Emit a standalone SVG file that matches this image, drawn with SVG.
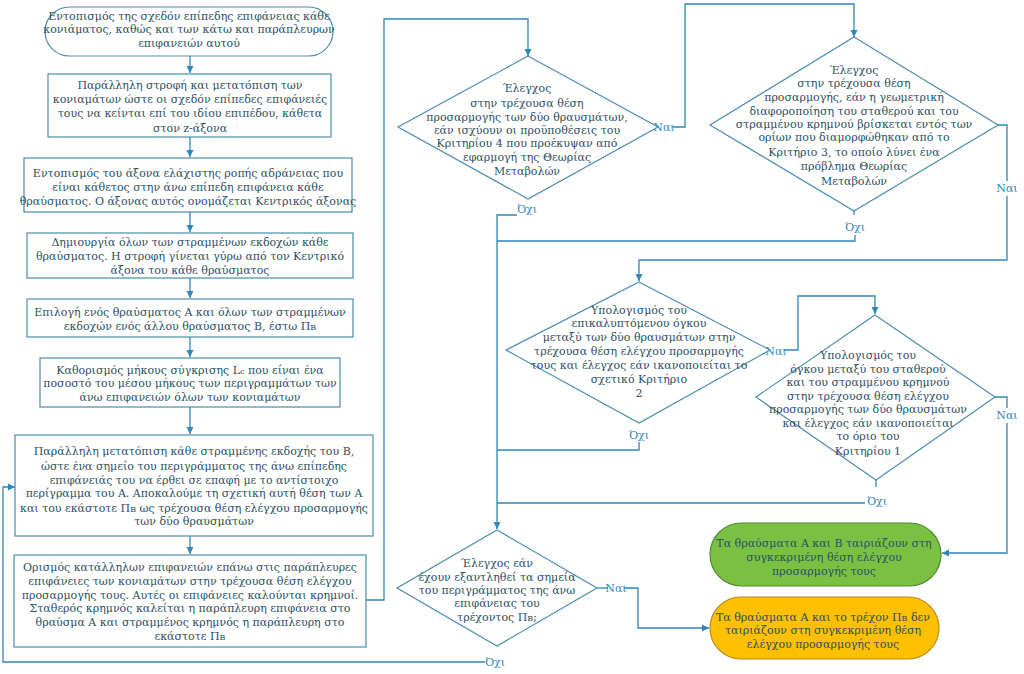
<svg xmlns="http://www.w3.org/2000/svg" width="1024" height="674" viewBox="0 0 1024 674">
<defs>
<marker id="ah" markerWidth="8" markerHeight="8" refX="7" refY="4" orient="auto" markerUnits="userSpaceOnUse">
<path d="M0,0.5 L7,4 L0,7.5 Z" fill="#2f86b8"/>
</marker>
<style>
.n{fill:#ffffff;stroke:#4a8db0;stroke-width:1.2}
.t{font-family:"DejaVu Serif","Liberation Serif",serif;font-size:11px;fill:#2b4f63;text-anchor:middle}
.c{fill:none;stroke:#2f86b8;stroke-width:1.3}
.a{marker-end:url(#ah)}
.l{font-family:"DejaVu Serif","Liberation Serif",serif;font-size:11px;fill:#2f86b8;text-anchor:middle}
.g{fill:#7ac143;stroke:#4f8a2e;stroke-width:1.2}
.o{fill:#ffc000;stroke:#b88a10;stroke-width:1.2}
.s{font-size:8px}
</style>
</defs>
<rect width="1024" height="674" fill="#ffffff"/>

<g id="connectors">
<path class="c a" d="M190,56 V73"/>
<path class="c a" d="M190,137 V157"/>
<path class="c a" d="M190,212 V232"/>
<path class="c a" d="M190,278 V298"/>
<path class="c a" d="M190,337 V357"/>
<path class="c a" d="M190,407 V434"/>
<path class="c a" d="M190,536 V554"/>
<path class="c a" d="M366,600 H384 V19 H528 V56"/>
<path class="c a" d="M673,127 H685 V4 H854 V37"/>
<path class="c" d="M998,125 H1007 V181"/>
<path class="c a" d="M1007,196 V260 H639 V281"/>
<path class="c a" d="M517,215 H497 V529"/>
<path class="c" d="M854,211 V215"/>
<path class="c" d="M855,235 V241 H497"/>
<path class="c" d="M639,442 V450 H497"/>
<path class="c" d="M876,480 V487"/>
<path class="c" d="M865,503 H497"/>
<path class="c a" d="M784,350 H798 V296 H875 V314"/>
<path class="c" d="M995,397 H1007 V408"/>
<path class="c a" d="M1007,423 V553 H942"/>
<path class="c" d="M597,588 H608"/>
<path class="c a" d="M624,588 H638 V628 H709"/>
<path class="c a" d="M485,662 H3 V487 H15"/>
<text class="l" x="664" y="131">Ναι</text>
<text class="l" x="1007" y="192">Ναι</text>
<text class="l" x="776" y="355">Ναι</text>
<text class="l" x="1007" y="419">Ναι</text>
<text class="l" x="616" y="592">Ναι</text>
<text class="l" x="527" y="213">Όχι</text>
<text class="l" x="855" y="231">Όχι</text>
<text class="l" x="639" y="439">Όχι</text>
<text class="l" x="877" y="505">Όχι</text>
<text class="l" x="495" y="666">Όχι</text>
</g>

<g id="n1">
<rect class="n" x="45" y="7" width="288" height="49" rx="24.5"/>
<text class="t" x="189" y="20">Εντοπισμός της σχεδόν επίπεδης επιφάνειας κάθε</text>
<text class="t" x="189" y="33">κονιάματος, καθώς και των κάτω και παράπλευρων</text>
<text class="t" x="189" y="47">επιφανειών αυτού</text>
</g>

<g id="n2">
<rect class="n" x="48" y="74" width="283" height="63"/>
<text class="t" x="190" y="89">Παράλληλη στροφή και μετατόπιση των</text>
<text class="t" x="190" y="103">κονιαμάτων ώστε οι σχεδόν επίπεδες επιφάνειές</text>
<text class="t" x="190" y="117">τους να κείνται επί του ιδίου επιπέδου, κάθετα</text>
<text class="t" x="190" y="132">στον z-άξονα</text>
</g>

<g id="n3">
<rect class="n" x="24" y="158" width="328" height="54"/>
<text class="t" x="188" y="177">Εντοπισμός του άξονα ελάχιστης ροπής αδράνειας που</text>
<text class="t" x="188" y="191">είναι κάθετος στην άνω επίπεδη επιφάνεια κάθε</text>
<text class="t" x="188" y="205">θραύσματος. Ο άξονας αυτός ονομάζεται Κεντρικός άξονας</text>
</g>

<g id="n4">
<rect class="n" x="27" y="233" width="326" height="45"/>
<text class="t" x="190" y="246">Δημιουργία όλων των στραμμένων εκδοχών κάθε</text>
<text class="t" x="190" y="260">θραύσματος. Η στροφή γίνεται γύρω από τον Κεντρικό</text>
<text class="t" x="190" y="274">άξονα του κάθε θραύσματος</text>
</g>

<g id="n5">
<rect class="n" x="27" y="299" width="326" height="38"/>
<text class="t" x="190" y="316">Επιλογή ενός θραύσματος Α και όλων των στραμμένων</text>
<text class="t" x="190" y="330">εκδοχών ενός άλλου θραύσματος Β, έστω Π<tspan class="s">Β</tspan></text>
</g>

<g id="n6">
<rect class="n" x="40" y="358" width="300" height="49"/>
<text class="t" x="190" y="374">Καθορισμός μήκους σύγκρισης L<tspan class="s">c</tspan> που είναι ένα</text>
<text class="t" x="190" y="387">ποσοστό του μέσου μήκους των περιγραμμάτων των</text>
<text class="t" x="190" y="401">άνω επιφανειών όλων των κονιαμάτων</text>
</g>

<g id="n7">
<rect class="n" x="15" y="435" width="358" height="101"/>
<text class="t" x="194" y="455">Παράλληλη μετατόπιση κάθε στραμμένης εκδοχής του Β,</text>
<text class="t" x="194" y="470">ώστε ένα σημείο του περιγράμματος  της άνω επίπεδης</text>
<text class="t" x="194" y="484">επιφάνειάς του να έρθει σε επαφή με το αντίστοιχο</text>
<text class="t" x="194" y="497">περίγραμμα του Α. Αποκαλούμε τη σχετική αυτή θέση των Α</text>
<text class="t" x="194" y="512">και του εκάστοτε Π<tspan class="s">Β</tspan> ως τρέχουσα θέση ελέγχου προσαρμογής</text>
<text class="t" x="194" y="525">των δύο θραυσμάτων</text>
</g>

<g id="n8">
<rect class="n" x="14" y="555" width="352" height="92"/>
<text class="t" x="190" y="571">Ορισμός κατάλληλων επιφανειών επάνω στις παράπλευρες</text>
<text class="t" x="190" y="585">επιφάνειες των κονιαμάτων στην τρέχουσα θέση ελέγχου</text>
<text class="t" x="190" y="599">προσαρμογής τους. Αυτές οι επιφάνειες καλούνται κρημνοί.</text>
<text class="t" x="190" y="612">Σταθερός κρημνός καλείται η παράπλευρη επιφάνεια στο</text>
<text class="t" x="190" y="626">θραύσμα Α και στραμμένος κρημνός η παράπλευρη στο</text>
<text class="t" x="190" y="640">εκάστοτε Π<tspan class="s">Β</tspan></text>
</g>

<g id="d1">
<polygon class="n" points="528,56 658,127 528,199 398,127"/>
<text class="t" x="527" y="92">Έλεγχος</text>
<text class="t" x="527" y="107">στην τρέχουσα θέση</text>
<text class="t" x="527" y="121">προσαρμογής των δύο θραυσμάτων,</text>
<text class="t" x="527" y="134">εάν ισχύουν οι προϋποθέσεις του</text>
<text class="t" x="527" y="147">Κριτηρίου 4 που προέκυψαν από</text>
<text class="t" x="527" y="161">εφαρμογή της Θεωρίας</text>
<text class="t" x="527" y="175">Μεταβολών</text>
</g>

<g id="d2">
<polygon class="n" points="854,37 998,125 854,211 710,125"/>
<text class="t" x="854" y="74">Έλεγχος</text>
<text class="t" x="854" y="87">στην τρέχουσα θέση</text>
<text class="t" x="854" y="101">προσαρμογής, εάν η γεωμετρική</text>
<text class="t" x="854" y="115">διαφοροποίηση του σταθερού και του</text>
<text class="t" x="854" y="128">στραμμένου κρημνού βρίσκεται εντός των</text>
<text class="t" x="854" y="141">ορίων που διαμορφώθηκαν από το</text>
<text class="t" x="854" y="156">Κριτήριο 3, το οποίο λύνει ένα</text>
<text class="t" x="854" y="170">πρόβλημα Θεωρίας</text>
<text class="t" x="854" y="185">Μεταβολών</text>
</g>

<g id="d3">
<polygon class="n" points="639,282 770,350 639,423 506,350"/>
<text class="t" x="639" y="314">Υπολογισμός του</text>
<text class="t" x="639" y="327">επικαλυπτόμενου όγκου</text>
<text class="t" x="639" y="341">μεταξύ των δύο θραυσμάτων στην</text>
<text class="t" x="639" y="355">τρέχουσα θέση ελέγχου προσαρμογής</text>
<text class="t" x="639" y="369">τους και έλεγχος εάν ικανοποιείται το</text>
<text class="t" x="639" y="383">σχετικό Κριτήριο</text>
<text class="t" x="639" y="397">2</text>
</g>

<g id="d4">
<polygon class="n" points="875,315 995,397 876,480 756,397"/>
<text class="t" x="868" y="359">Υπολογισμός του</text>
<text class="t" x="868" y="373">όγκου μεταξύ του σταθερού</text>
<text class="t" x="868" y="386">και του στραμμένου κρημνού</text>
<text class="t" x="868" y="400">στην τρέχουσα θέση ελέγχου</text>
<text class="t" x="868" y="413">προσαρμογής των δύο θραυσμάτων</text>
<text class="t" x="868" y="427">και έλεγχος εάν ικανοποιείται</text>
<text class="t" x="868" y="440">το όριο του</text>
<text class="t" x="868" y="455">Κριτηρίου 1</text>
</g>

<g id="d5">
<polygon class="n" points="497,530 597,588 497,646 397,588"/>
<text class="t" x="497" y="567">Έλεγχος εάν</text>
<text class="t" x="497" y="581">έχουν εξαντληθεί τα σημεία</text>
<text class="t" x="497" y="594">του περιγράμματος της άνω</text>
<text class="t" x="497" y="607">επιφάνειας του</text>
<text class="t" x="497" y="621">τρέχοντος Π<tspan class="s">Β</tspan>;</text>
</g>

<g id="e1">
<rect class="g" x="710" y="523" width="231" height="63" rx="31.5"/>
<text class="t" x="824" y="547">Τα θραύσματα Α και Β ταιριάζουν στη</text>
<text class="t" x="824" y="561">συγκεκριμένη θέση ελέγχου</text>
<text class="t" x="824" y="575">προσαρμογής τους</text>
</g>

<g id="e2">
<rect class="o" x="710" y="597" width="229" height="62" rx="31"/>
<text class="t" x="823" y="621">Τα θραύσματα Α και το τρέχον Π<tspan class="s">Β</tspan> δεν</text>
<text class="t" x="823" y="634">ταιριάζουν στη συγκεκριμένη θέση</text>
<text class="t" x="823" y="648">ελέγχου προσαρμογής τους</text>
</g>
</svg>
